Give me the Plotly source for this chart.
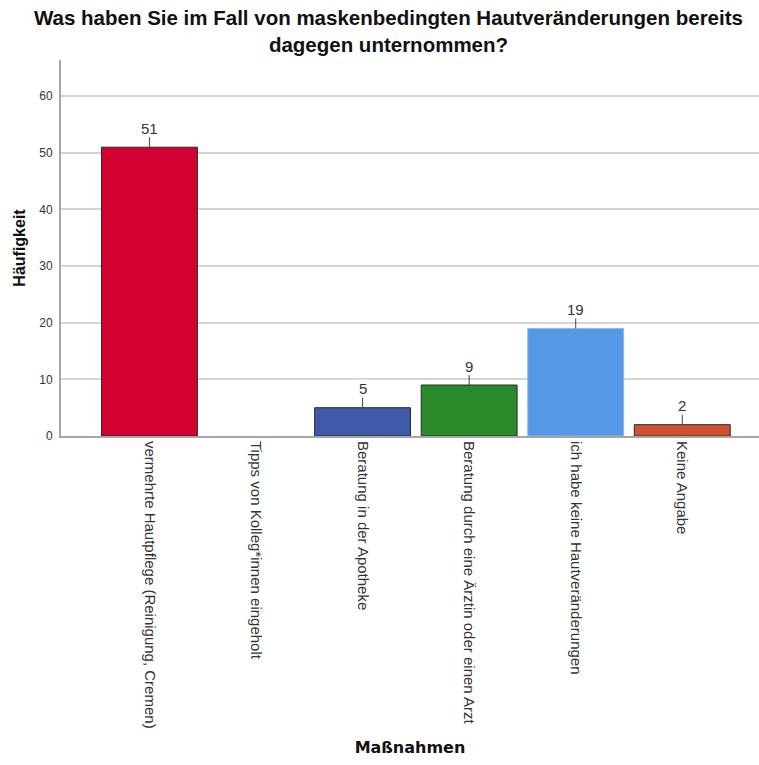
import plotly.graph_objects as go

# Survey answers and counts
categories = [
    "vermehrte Hautpflege (Reinigung, Cremen)",
    "Tipps von Kolleg*innen eingeholt",
    "Beratung in der Apotheke",
    "Beratung durch eine Ärztin oder einen Arzt",
    "ich habe keine Hautveränderungen",
    "Keine Angabe",
]
counts = [51, 0, 5, 9, 19, 2]
bar_colors = ["#D50032", "#FFFFFF", "#3D59A8", "#2A8A2A", "#5598E5", "#D1512F"]
outline_colors = ["#2a2a2a", "#FFFFFF", "#2a2a2a", "#2a2a2a", "#8DBBEF", "#2a2a2a"]
outline_widths = [1, 0, 1, 1, 1, 1]
y_ticks = [0, 10, 20, 30, 40, 50, 60]

title_text = ("<b>Was haben Sie im Fall von maskenbedingten Hautveränderungen bereits"
              "<br>dagegen unternommen?</b>")

x_idx = list(range(len(categories)))

fig = go.Figure()
fig.add_trace(go.Bar(
    x=x_idx,
    y=counts,
    width=0.9,
    marker=dict(color=bar_colors, line=dict(color=outline_colors, width=outline_widths)),
    hoverinfo="skip",
))

# value labels with a short leader line to the top of each bar
for i, v in zip(x_idx, counts):
    if v == 0:
        continue
    fig.add_annotation(
        x=i, y=v, text=str(v),
        showarrow=True, arrowhead=0, arrowwidth=1, arrowcolor="#444",
        ax=0, ay=-19, standoff=0,
        bgcolor="white", borderpad=0,
        font=dict(family="Liberation Sans, Arial", size=15, color="#333"),
    )

# chart title
plot_top_px, plot_h_px = 60, 376
fig.add_annotation(
    text=title_text, xref="paper", yref="paper",
    x=0.4685, y=1 + (plot_top_px - 31) / plot_h_px,
    xanchor="center", yanchor="middle", align="center",
    showarrow=False, borderpad=0,
    font=dict(family="Liberation Sans, Arial", size=20.5, color="#111"),
)

fig.update_layout(
    width=759, height=765,
    margin=dict(l=61, r=0, t=60, b=329),
    paper_bgcolor="white", plot_bgcolor="white",
    showlegend=False,
    font=dict(family="Liberation Sans, Arial", color="#333"),
)

fig.update_xaxes(
    tickmode="array", tickvals=x_idx, ticktext=categories,
    tickangle=90, tickfont=dict(size=15, color="#333"),
    range=[-0.83, 5.72],
    showline=True, linecolor="#A6A6A6", linewidth=2,
    showgrid=False, zeroline=False, ticks="", ticklen=0,
    title=dict(text="<b>Maßnahmen</b>", font=dict(family="DejaVu Sans, Verdana", size=16, color="#111"), standoff=14),
)
fig.update_yaxes(
    tickmode="array", tickvals=y_ticks,
    range=[0, 66.4],
    tickfont=dict(size=12, color="#333"),
    showline=True, linecolor="#A6A6A6", linewidth=2,
    showgrid=True, gridcolor="#D4D4D4", gridwidth=1.5,
    zeroline=False, ticks="outside", ticklen=4, tickcolor="white",
    title=dict(text="<b>Häufigkeit</b>", font=dict(family="Liberation Sans, Arial", size=16, color="#111"), standoff=10),
)

fig.write_html("out.html")
